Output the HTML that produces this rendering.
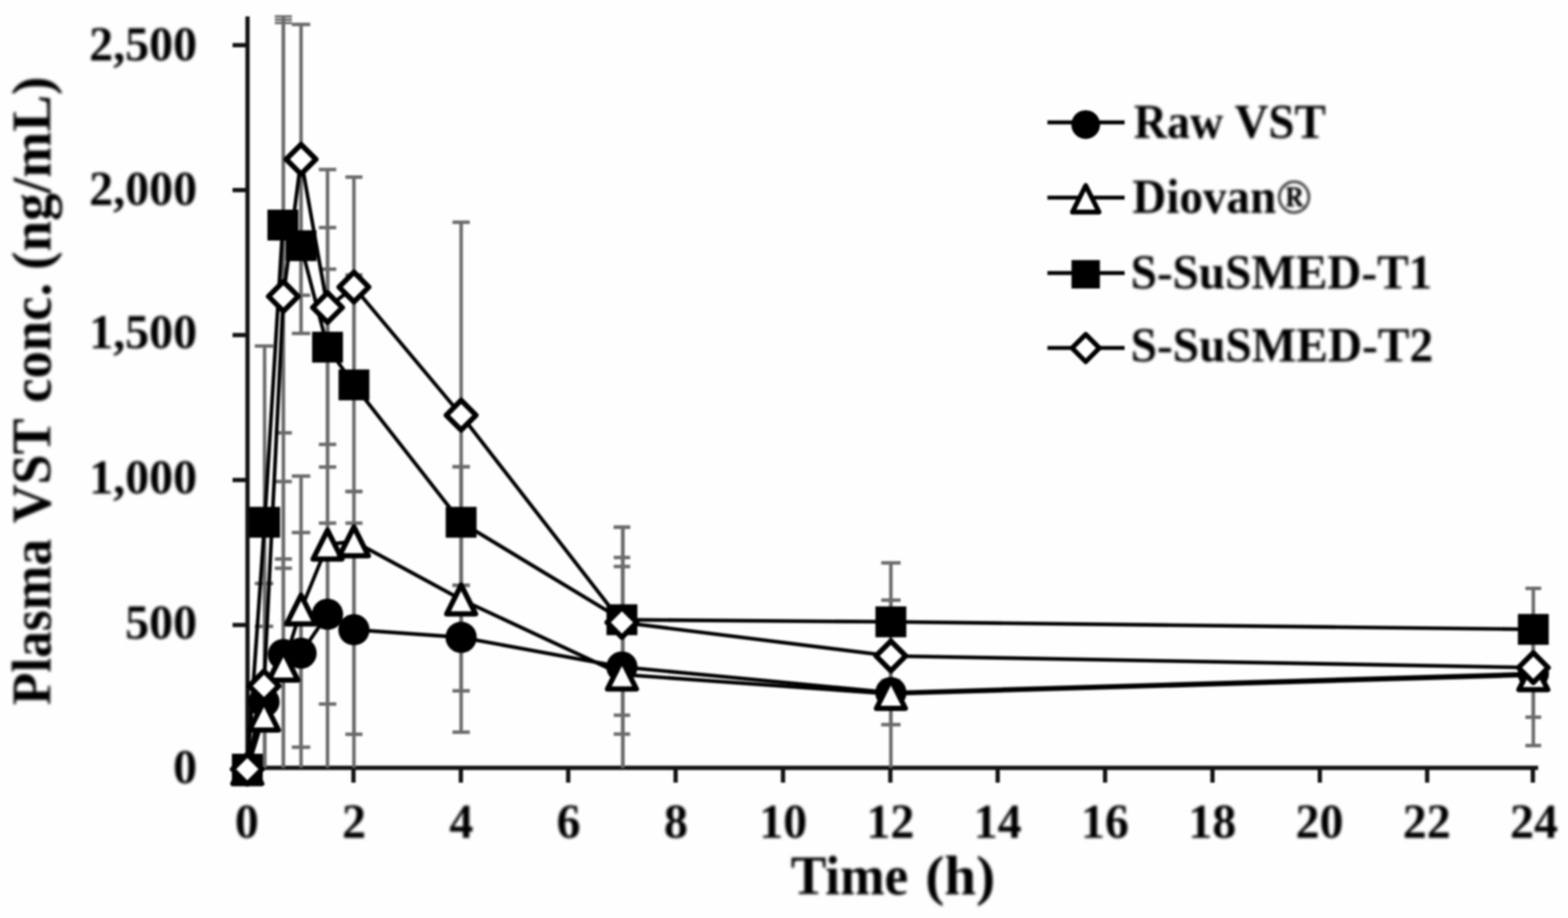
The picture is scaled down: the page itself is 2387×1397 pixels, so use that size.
<!DOCTYPE html>
<html lang="en">
<head>
<meta charset="utf-8">
<title>Plasma VST concentration vs. time</title>
<style>
html, body { margin: 0; padding: 0; background: #fefefe; }
body { width: 2387px; height: 1397px; overflow: hidden; }
svg { display: block; }
.shapes { filter: blur(1.4px); }
.labels { filter: blur(1.9px); }
text { font-kerning: normal; }
</style>
</head>
<body>
<svg width="2387" height="1397" viewBox="0 0 2387 1397" role="img" aria-label="Plasma VST concentration (ng/mL) versus time (h)">
<rect x="0" y="0" width="2387" height="1397" fill="#fefefe"/>
<g class="shapes">
<g id="axes">
<line x1="376.8" y1="25.0" x2="376.8" y2="1171.8" stroke="#111" stroke-width="6.5" stroke-linecap="butt"/>
<line x1="373.5" y1="1168.5" x2="2341.5" y2="1168.5" stroke="#111" stroke-width="6.5" stroke-linecap="butt"/>
<line x1="354.0" y1="68.7" x2="377.0" y2="68.7" stroke="#111" stroke-width="6.5" stroke-linecap="butt"/>
<line x1="354.0" y1="289.3" x2="377.0" y2="289.3" stroke="#111" stroke-width="6.5" stroke-linecap="butt"/>
<line x1="354.0" y1="509.9" x2="377.0" y2="509.9" stroke="#111" stroke-width="6.5" stroke-linecap="butt"/>
<line x1="354.0" y1="730.5" x2="377.0" y2="730.5" stroke="#111" stroke-width="6.5" stroke-linecap="butt"/>
<line x1="354.0" y1="951.1" x2="377.0" y2="951.1" stroke="#111" stroke-width="6.5" stroke-linecap="butt"/>
<line x1="538.1" y1="1168.5" x2="538.1" y2="1191.0" stroke="#111" stroke-width="6.5" stroke-linecap="butt"/>
<line x1="701.6" y1="1168.5" x2="701.6" y2="1191.0" stroke="#111" stroke-width="6.5" stroke-linecap="butt"/>
<line x1="865.0" y1="1168.5" x2="865.0" y2="1191.0" stroke="#111" stroke-width="6.5" stroke-linecap="butt"/>
<line x1="1028.5" y1="1168.5" x2="1028.5" y2="1191.0" stroke="#111" stroke-width="6.5" stroke-linecap="butt"/>
<line x1="1192.0" y1="1168.5" x2="1192.0" y2="1191.0" stroke="#111" stroke-width="6.5" stroke-linecap="butt"/>
<line x1="1355.4" y1="1168.5" x2="1355.4" y2="1191.0" stroke="#111" stroke-width="6.5" stroke-linecap="butt"/>
<line x1="1518.8" y1="1168.5" x2="1518.8" y2="1191.0" stroke="#111" stroke-width="6.5" stroke-linecap="butt"/>
<line x1="1682.3" y1="1168.5" x2="1682.3" y2="1191.0" stroke="#111" stroke-width="6.5" stroke-linecap="butt"/>
<line x1="1845.8" y1="1168.5" x2="1845.8" y2="1191.0" stroke="#111" stroke-width="6.5" stroke-linecap="butt"/>
<line x1="2009.2" y1="1168.5" x2="2009.2" y2="1191.0" stroke="#111" stroke-width="6.5" stroke-linecap="butt"/>
<line x1="2172.6" y1="1168.5" x2="2172.6" y2="1191.0" stroke="#111" stroke-width="6.5" stroke-linecap="butt"/>
<line x1="2333.5" y1="1168.5" x2="2333.5" y2="1191.0" stroke="#111" stroke-width="6.5" stroke-linecap="butt"/>
</g>
<g id="errorbars">
<line x1="402.8" y1="953.2" x2="402.8" y2="1168.5" stroke="#6a6a6a" stroke-width="5.3" stroke-linecap="butt"/>
<line x1="387.9" y1="953.2" x2="415.9" y2="953.2" stroke="#6a6a6a" stroke-width="5.3" stroke-linecap="butt"/>
<line x1="431.4" y1="732.8" x2="431.4" y2="1168.5" stroke="#6a6a6a" stroke-width="5.3" stroke-linecap="butt"/>
<line x1="418.4" y1="732.8" x2="444.4" y2="732.8" stroke="#6a6a6a" stroke-width="5.3" stroke-linecap="butt"/>
<line x1="458.3" y1="810.4" x2="458.3" y2="1168.5" stroke="#6a6a6a" stroke-width="5.3" stroke-linecap="butt"/>
<line x1="444.3" y1="810.4" x2="472.3" y2="810.4" stroke="#6a6a6a" stroke-width="5.3" stroke-linecap="butt"/>
<line x1="498.6" y1="796.1" x2="498.6" y2="1071.4" stroke="#6a6a6a" stroke-width="5.3" stroke-linecap="butt"/>
<line x1="485.4" y1="796.1" x2="511.9" y2="796.1" stroke="#6a6a6a" stroke-width="5.3" stroke-linecap="butt"/>
<line x1="485.4" y1="1071.4" x2="511.9" y2="1071.4" stroke="#6a6a6a" stroke-width="5.3" stroke-linecap="butt"/>
<line x1="538.8" y1="796.1" x2="538.8" y2="1117.4" stroke="#6a6a6a" stroke-width="5.3" stroke-linecap="butt"/>
<line x1="525.8" y1="796.1" x2="551.8" y2="796.1" stroke="#6a6a6a" stroke-width="5.3" stroke-linecap="butt"/>
<line x1="525.8" y1="1117.4" x2="551.8" y2="1117.4" stroke="#6a6a6a" stroke-width="5.3" stroke-linecap="butt"/>
<line x1="702.0" y1="890.6" x2="702.0" y2="1051.3" stroke="#6a6a6a" stroke-width="5.3" stroke-linecap="butt"/>
<line x1="688.8" y1="890.6" x2="715.2" y2="890.6" stroke="#6a6a6a" stroke-width="5.3" stroke-linecap="butt"/>
<line x1="688.8" y1="1051.3" x2="715.2" y2="1051.3" stroke="#6a6a6a" stroke-width="5.3" stroke-linecap="butt"/>
<line x1="948.2" y1="848.4" x2="948.2" y2="1168.5" stroke="#6a6a6a" stroke-width="5.3" stroke-linecap="butt"/>
<line x1="934.3" y1="848.4" x2="959.3" y2="848.4" stroke="#6a6a6a" stroke-width="5.3" stroke-linecap="butt"/>
<line x1="1356.2" y1="1005.0" x2="1356.2" y2="1102.8" stroke="#6a6a6a" stroke-width="5.3" stroke-linecap="butt"/>
<line x1="1341.5" y1="1005.0" x2="1371.0" y2="1005.0" stroke="#6a6a6a" stroke-width="5.3" stroke-linecap="butt"/>
<line x1="1341.5" y1="1102.8" x2="1371.0" y2="1102.8" stroke="#6a6a6a" stroke-width="5.3" stroke-linecap="butt"/>
<line x1="2334.2" y1="960.0" x2="2334.2" y2="1091.4" stroke="#6a6a6a" stroke-width="5.3" stroke-linecap="butt"/>
<line x1="2322.2" y1="960.0" x2="2346.2" y2="960.0" stroke="#6a6a6a" stroke-width="5.3" stroke-linecap="butt"/>
<line x1="2322.2" y1="1091.4" x2="2346.2" y2="1091.4" stroke="#6a6a6a" stroke-width="5.3" stroke-linecap="butt"/>
<line x1="402.8" y1="1050.0" x2="402.8" y2="1168.5" stroke="#6a6a6a" stroke-width="5.3" stroke-linecap="butt"/>
<line x1="387.9" y1="1050.0" x2="415.9" y2="1050.0" stroke="#6a6a6a" stroke-width="5.3" stroke-linecap="butt"/>
<line x1="431.4" y1="850.7" x2="431.4" y2="1168.5" stroke="#6a6a6a" stroke-width="5.3" stroke-linecap="butt"/>
<line x1="418.4" y1="850.7" x2="444.4" y2="850.7" stroke="#6a6a6a" stroke-width="5.3" stroke-linecap="butt"/>
<line x1="458.3" y1="724.5" x2="458.3" y2="1137.1" stroke="#6a6a6a" stroke-width="5.3" stroke-linecap="butt"/>
<line x1="444.3" y1="724.5" x2="472.3" y2="724.5" stroke="#6a6a6a" stroke-width="5.3" stroke-linecap="butt"/>
<line x1="444.3" y1="1137.1" x2="472.3" y2="1137.1" stroke="#6a6a6a" stroke-width="5.3" stroke-linecap="butt"/>
<line x1="498.6" y1="409.6" x2="498.6" y2="1168.5" stroke="#6a6a6a" stroke-width="5.3" stroke-linecap="butt"/>
<line x1="485.4" y1="409.6" x2="511.9" y2="409.6" stroke="#6a6a6a" stroke-width="5.3" stroke-linecap="butt"/>
<line x1="538.8" y1="747.9" x2="538.8" y2="1168.5" stroke="#6a6a6a" stroke-width="5.3" stroke-linecap="butt"/>
<line x1="525.8" y1="747.9" x2="551.8" y2="747.9" stroke="#6a6a6a" stroke-width="5.3" stroke-linecap="butt"/>
<line x1="702.0" y1="710.4" x2="702.0" y2="1114.2" stroke="#6a6a6a" stroke-width="5.3" stroke-linecap="butt"/>
<line x1="688.8" y1="710.4" x2="715.2" y2="710.4" stroke="#6a6a6a" stroke-width="5.3" stroke-linecap="butt"/>
<line x1="688.8" y1="1114.2" x2="715.2" y2="1114.2" stroke="#6a6a6a" stroke-width="5.3" stroke-linecap="butt"/>
<line x1="948.2" y1="862.1" x2="948.2" y2="1168.5" stroke="#6a6a6a" stroke-width="5.3" stroke-linecap="butt"/>
<line x1="934.3" y1="862.1" x2="959.3" y2="862.1" stroke="#6a6a6a" stroke-width="5.3" stroke-linecap="butt"/>
<line x1="1356.2" y1="960.0" x2="1356.2" y2="1168.5" stroke="#6a6a6a" stroke-width="5.3" stroke-linecap="butt"/>
<line x1="1341.5" y1="960.0" x2="1371.0" y2="960.0" stroke="#6a6a6a" stroke-width="5.3" stroke-linecap="butt"/>
<line x1="2334.2" y1="960.0" x2="2334.2" y2="1134.6" stroke="#6a6a6a" stroke-width="5.3" stroke-linecap="butt"/>
<line x1="2322.2" y1="960.0" x2="2346.2" y2="960.0" stroke="#6a6a6a" stroke-width="5.3" stroke-linecap="butt"/>
<line x1="2322.2" y1="1134.6" x2="2346.2" y2="1134.6" stroke="#6a6a6a" stroke-width="5.3" stroke-linecap="butt"/>
<line x1="402.8" y1="526.6" x2="402.8" y2="1063.0" stroke="#6a6a6a" stroke-width="5.3" stroke-linecap="butt"/>
<line x1="387.9" y1="526.6" x2="415.9" y2="526.6" stroke="#6a6a6a" stroke-width="5.3" stroke-linecap="butt"/>
<line x1="387.9" y1="1063.0" x2="415.9" y2="1063.0" stroke="#6a6a6a" stroke-width="5.3" stroke-linecap="butt"/>
<line x1="431.4" y1="25.0" x2="431.4" y2="658.7" stroke="#6a6a6a" stroke-width="5.3" stroke-linecap="butt"/>
<line x1="418.4" y1="25.0" x2="444.4" y2="25.0" stroke="#6a6a6a" stroke-width="3.6" stroke-linecap="butt"/>
<line x1="418.4" y1="658.7" x2="444.4" y2="658.7" stroke="#6a6a6a" stroke-width="5.3" stroke-linecap="butt"/>
<line x1="458.3" y1="240.4" x2="458.3" y2="507.4" stroke="#6a6a6a" stroke-width="5.3" stroke-linecap="butt"/>
<line x1="444.3" y1="240.4" x2="472.3" y2="240.4" stroke="#6a6a6a" stroke-width="5.3" stroke-linecap="butt"/>
<line x1="444.3" y1="507.4" x2="472.3" y2="507.4" stroke="#6a6a6a" stroke-width="5.3" stroke-linecap="butt"/>
<line x1="498.6" y1="346.3" x2="498.6" y2="710.7" stroke="#6a6a6a" stroke-width="5.3" stroke-linecap="butt"/>
<line x1="485.4" y1="346.3" x2="511.9" y2="346.3" stroke="#6a6a6a" stroke-width="5.3" stroke-linecap="butt"/>
<line x1="485.4" y1="710.7" x2="511.9" y2="710.7" stroke="#6a6a6a" stroke-width="5.3" stroke-linecap="butt"/>
<line x1="538.8" y1="418.5" x2="538.8" y2="747.9" stroke="#6a6a6a" stroke-width="5.3" stroke-linecap="butt"/>
<line x1="525.8" y1="418.5" x2="551.8" y2="418.5" stroke="#6a6a6a" stroke-width="5.3" stroke-linecap="butt"/>
<line x1="525.8" y1="747.9" x2="551.8" y2="747.9" stroke="#6a6a6a" stroke-width="5.3" stroke-linecap="butt"/>
<line x1="702.0" y1="710.4" x2="702.0" y2="890.6" stroke="#6a6a6a" stroke-width="5.3" stroke-linecap="butt"/>
<line x1="688.8" y1="710.4" x2="715.2" y2="710.4" stroke="#6a6a6a" stroke-width="5.3" stroke-linecap="butt"/>
<line x1="688.8" y1="890.6" x2="715.2" y2="890.6" stroke="#6a6a6a" stroke-width="5.3" stroke-linecap="butt"/>
<line x1="948.2" y1="802.3" x2="948.2" y2="1088.4" stroke="#6a6a6a" stroke-width="5.3" stroke-linecap="butt"/>
<line x1="934.3" y1="802.3" x2="959.3" y2="802.3" stroke="#6a6a6a" stroke-width="5.3" stroke-linecap="butt"/>
<line x1="934.3" y1="1088.4" x2="959.3" y2="1088.4" stroke="#6a6a6a" stroke-width="5.3" stroke-linecap="butt"/>
<line x1="1356.2" y1="856.6" x2="1356.2" y2="1036.0" stroke="#6a6a6a" stroke-width="5.3" stroke-linecap="butt"/>
<line x1="1341.5" y1="856.6" x2="1371.0" y2="856.6" stroke="#6a6a6a" stroke-width="5.3" stroke-linecap="butt"/>
<line x1="1341.5" y1="1036.0" x2="1371.0" y2="1036.0" stroke="#6a6a6a" stroke-width="5.3" stroke-linecap="butt"/>
<line x1="2334.2" y1="895.4" x2="2334.2" y2="1020.0" stroke="#6a6a6a" stroke-width="5.3" stroke-linecap="butt"/>
<line x1="2322.2" y1="895.4" x2="2346.2" y2="895.4" stroke="#6a6a6a" stroke-width="5.3" stroke-linecap="butt"/>
<line x1="2322.2" y1="1020.0" x2="2346.2" y2="1020.0" stroke="#6a6a6a" stroke-width="5.3" stroke-linecap="butt"/>
<line x1="402.8" y1="887.9" x2="402.8" y2="1168.5" stroke="#6a6a6a" stroke-width="5.3" stroke-linecap="butt"/>
<line x1="387.9" y1="887.9" x2="415.9" y2="887.9" stroke="#6a6a6a" stroke-width="5.3" stroke-linecap="butt"/>
<line x1="431.4" y1="35.0" x2="431.4" y2="864.8" stroke="#6a6a6a" stroke-width="5.3" stroke-linecap="butt"/>
<line x1="418.4" y1="35.0" x2="444.4" y2="35.0" stroke="#6a6a6a" stroke-width="3.6" stroke-linecap="butt"/>
<line x1="418.4" y1="864.8" x2="444.4" y2="864.8" stroke="#6a6a6a" stroke-width="5.3" stroke-linecap="butt"/>
<line x1="458.3" y1="37.2" x2="458.3" y2="449.3" stroke="#6a6a6a" stroke-width="5.3" stroke-linecap="butt"/>
<line x1="444.3" y1="37.2" x2="472.3" y2="37.2" stroke="#6a6a6a" stroke-width="5.3" stroke-linecap="butt"/>
<line x1="444.3" y1="449.3" x2="472.3" y2="449.3" stroke="#6a6a6a" stroke-width="5.3" stroke-linecap="butt"/>
<line x1="498.6" y1="258.0" x2="498.6" y2="676.3" stroke="#6a6a6a" stroke-width="5.3" stroke-linecap="butt"/>
<line x1="485.4" y1="258.0" x2="511.9" y2="258.0" stroke="#6a6a6a" stroke-width="5.3" stroke-linecap="butt"/>
<line x1="485.4" y1="676.3" x2="511.9" y2="676.3" stroke="#6a6a6a" stroke-width="5.3" stroke-linecap="butt"/>
<line x1="538.8" y1="269.5" x2="538.8" y2="604.0" stroke="#6a6a6a" stroke-width="5.3" stroke-linecap="butt"/>
<line x1="525.8" y1="269.5" x2="551.8" y2="269.5" stroke="#6a6a6a" stroke-width="5.3" stroke-linecap="butt"/>
<line x1="525.8" y1="604.0" x2="551.8" y2="604.0" stroke="#6a6a6a" stroke-width="5.3" stroke-linecap="butt"/>
<line x1="702.0" y1="338.2" x2="702.0" y2="925.4" stroke="#6a6a6a" stroke-width="5.3" stroke-linecap="butt"/>
<line x1="688.8" y1="338.2" x2="715.2" y2="338.2" stroke="#6a6a6a" stroke-width="5.3" stroke-linecap="butt"/>
<line x1="688.8" y1="925.4" x2="715.2" y2="925.4" stroke="#6a6a6a" stroke-width="5.3" stroke-linecap="butt"/>
<line x1="948.2" y1="802.3" x2="948.2" y2="1117.1" stroke="#6a6a6a" stroke-width="5.3" stroke-linecap="butt"/>
<line x1="934.3" y1="802.3" x2="959.3" y2="802.3" stroke="#6a6a6a" stroke-width="5.3" stroke-linecap="butt"/>
<line x1="934.3" y1="1117.1" x2="959.3" y2="1117.1" stroke="#6a6a6a" stroke-width="5.3" stroke-linecap="butt"/>
<line x1="1356.2" y1="913.3" x2="1356.2" y2="1070.0" stroke="#6a6a6a" stroke-width="5.3" stroke-linecap="butt"/>
<line x1="1341.5" y1="913.3" x2="1371.0" y2="913.3" stroke="#6a6a6a" stroke-width="5.3" stroke-linecap="butt"/>
<line x1="1341.5" y1="1070.0" x2="1371.0" y2="1070.0" stroke="#6a6a6a" stroke-width="5.3" stroke-linecap="butt"/>
<line x1="2334.2" y1="960.0" x2="2334.2" y2="1040.0" stroke="#6a6a6a" stroke-width="5.3" stroke-linecap="butt"/>
<line x1="2322.2" y1="960.0" x2="2346.2" y2="960.0" stroke="#6a6a6a" stroke-width="5.3" stroke-linecap="butt"/>
<line x1="2322.2" y1="1040.0" x2="2346.2" y2="1040.0" stroke="#6a6a6a" stroke-width="5.3" stroke-linecap="butt"/>
<line x1="418.4" y1="30.0" x2="444.4" y2="30.0" stroke="#6a6a6a" stroke-width="3.6" stroke-linecap="butt"/>
</g>
<g id="lines">
<polyline points="376.5,1170.5 401.9,1068.0 431.4,996.0 458.3,994.0 498.6,934.8 538.8,958.3 702.0,969.9 946.8,1015.0 1356.2,1054.0 2334.2,1025.0" fill="none" stroke="#000" stroke-width="5.6" stroke-linejoin="round"/>
<polyline points="376.5,1170.5 401.9,1089.0 431.4,1013.0 458.3,927.5 498.6,828.7 538.8,823.7 702.0,912.2 946.8,1026.5 1356.2,1056.0 2334.2,1027.5" fill="none" stroke="#000" stroke-width="5.6" stroke-linejoin="round"/>
<polyline points="376.5,1170.5 402.9,794.8 430.6,342.5 458.3,373.9 498.6,528.3 538.8,585.7 702.0,794.8 946.8,943.1 1356.2,946.3 2334.2,957.8" fill="none" stroke="#000" stroke-width="5.6" stroke-linejoin="round"/>
<polyline points="376.5,1170.5 401.9,1043.8 431.4,451.0 458.3,242.4 498.6,468.0 538.8,436.8 702.0,631.8 946.8,947.2 1356.2,998.2 2334.2,1016.0" fill="none" stroke="#000" stroke-width="5.6" stroke-linejoin="round"/>
</g>
<g id="m-raw">
<circle cx="376.5" cy="1170.5" r="23.8" fill="#000"/>
<circle cx="401.9" cy="1068.0" r="23.8" fill="#000"/>
<circle cx="431.4" cy="996.0" r="23.8" fill="#000"/>
<circle cx="458.3" cy="994.0" r="23.8" fill="#000"/>
<circle cx="498.6" cy="934.8" r="23.8" fill="#000"/>
<circle cx="538.8" cy="958.3" r="23.8" fill="#000"/>
<circle cx="702.0" cy="969.9" r="23.8" fill="#000"/>
<circle cx="946.8" cy="1015.0" r="23.8" fill="#000"/>
<circle cx="1356.2" cy="1054.0" r="23.8" fill="#000"/>
<circle cx="2334.2" cy="1025.0" r="23.8" fill="#000"/>
</g>
<g id="m-dio">
<polygon points="376.5,1148.7 398.5,1192.5 354.5,1192.5" fill="#fff" stroke="#000" stroke-width="8.0" stroke-linejoin="round"/>
<polygon points="401.9,1067.2 423.9,1111.0 379.9,1111.0" fill="#fff" stroke="#000" stroke-width="8.0" stroke-linejoin="round"/>
<polygon points="431.4,991.2 453.4,1035.0 409.4,1035.0" fill="#fff" stroke="#000" stroke-width="8.0" stroke-linejoin="round"/>
<polygon points="458.3,905.7 480.3,949.5 436.3,949.5" fill="#fff" stroke="#000" stroke-width="8.0" stroke-linejoin="round"/>
<polygon points="498.6,806.9 520.6,850.7 476.6,850.7" fill="#fff" stroke="#000" stroke-width="8.0" stroke-linejoin="round"/>
<polygon points="538.8,801.9 560.8,845.7 516.8,845.7" fill="#fff" stroke="#000" stroke-width="8.0" stroke-linejoin="round"/>
<polygon points="702.0,890.4 724.0,934.2 680.0,934.2" fill="#fff" stroke="#000" stroke-width="8.0" stroke-linejoin="round"/>
<polygon points="946.8,1004.7 968.8,1048.5 924.8,1048.5" fill="#fff" stroke="#000" stroke-width="8.0" stroke-linejoin="round"/>
<polygon points="1356.2,1034.2 1378.2,1078.0 1334.2,1078.0" fill="#fff" stroke="#000" stroke-width="8.0" stroke-linejoin="round"/>
<polygon points="2334.2,1005.7 2356.2,1049.5 2312.2,1049.5" fill="#fff" stroke="#000" stroke-width="8.0" stroke-linejoin="round"/>
</g>
<g id="m-t1">
<rect x="353.0" y="1147.0" width="47.0" height="47.0" fill="#000"/>
<rect x="379.4" y="771.3" width="47.0" height="47.0" fill="#000"/>
<rect x="407.1" y="319.0" width="47.0" height="47.0" fill="#000"/>
<rect x="434.8" y="350.4" width="47.0" height="47.0" fill="#000"/>
<rect x="475.1" y="504.8" width="47.0" height="47.0" fill="#000"/>
<rect x="515.3" y="562.2" width="47.0" height="47.0" fill="#000"/>
<rect x="678.5" y="771.3" width="47.0" height="47.0" fill="#000"/>
<rect x="923.3" y="919.6" width="47.0" height="47.0" fill="#000"/>
<rect x="1332.7" y="922.8" width="47.0" height="47.0" fill="#000"/>
<rect x="2310.7" y="934.3" width="47.0" height="47.0" fill="#000"/>
</g>
<g id="m-t2">
<polygon points="376.5,1147.9 399.1,1170.5 376.5,1193.1 353.9,1170.5" fill="#fff" stroke="#000" stroke-width="8.0" stroke-linejoin="round"/>
<polygon points="401.9,1021.2 424.5,1043.8 401.9,1066.4 379.3,1043.8" fill="#fff" stroke="#000" stroke-width="8.0" stroke-linejoin="round"/>
<polygon points="431.4,428.4 454.0,451.0 431.4,473.6 408.8,451.0" fill="#fff" stroke="#000" stroke-width="8.0" stroke-linejoin="round"/>
<polygon points="458.3,219.8 480.9,242.4 458.3,265.0 435.7,242.4" fill="#fff" stroke="#000" stroke-width="8.0" stroke-linejoin="round"/>
<polygon points="498.6,445.4 521.2,468.0 498.6,490.6 476.0,468.0" fill="#fff" stroke="#000" stroke-width="8.0" stroke-linejoin="round"/>
<polygon points="538.8,414.2 561.4,436.8 538.8,459.4 516.2,436.8" fill="#fff" stroke="#000" stroke-width="8.0" stroke-linejoin="round"/>
<polygon points="702.0,609.2 724.6,631.8 702.0,654.4 679.4,631.8" fill="#fff" stroke="#000" stroke-width="8.0" stroke-linejoin="round"/>
<polygon points="946.8,924.6 969.4,947.2 946.8,969.8 924.2,947.2" fill="#fff" stroke="#000" stroke-width="8.0" stroke-linejoin="round"/>
<polygon points="1356.2,975.6 1378.8,998.2 1356.2,1020.8 1333.6,998.2" fill="#fff" stroke="#000" stroke-width="8.0" stroke-linejoin="round"/>
<polygon points="2334.2,993.4 2356.8,1016.0 2334.2,1038.6 2311.6,1016.0" fill="#fff" stroke="#000" stroke-width="8.0" stroke-linejoin="round"/>
</g>
</g>
<g class="labels">
<g id="ticklabels" font-family='"Liberation Serif", "DejaVu Serif", serif' font-weight="bold" fill="#000">
<text x="300.0" y="92.1" font-size="73" text-anchor="end" >2,500</text>
<text x="300.0" y="312.0" font-size="73" text-anchor="end" >2,000</text>
<text x="300.0" y="530.3" font-size="73" text-anchor="end" >1,500</text>
<text x="300.0" y="750.6" font-size="73" text-anchor="end" >1,000</text>
<text x="300.0" y="971.6" font-size="73" text-anchor="end" >500</text>
<text x="300.0" y="1192.0" font-size="73" text-anchor="end" >0</text>
<text x="375.7" y="1274.5" font-size="73" text-anchor="middle" >0</text>
<text x="539.0" y="1274.5" font-size="73" text-anchor="middle" >2</text>
<text x="702.3" y="1274.5" font-size="73" text-anchor="middle" >4</text>
<text x="865.6" y="1274.5" font-size="73" text-anchor="middle" >6</text>
<text x="1028.9" y="1274.5" font-size="73" text-anchor="middle" >8</text>
<text x="1192.2" y="1274.5" font-size="73" text-anchor="middle" >10</text>
<text x="1355.5" y="1274.5" font-size="73" text-anchor="middle" >12</text>
<text x="1518.8" y="1274.5" font-size="73" text-anchor="middle" >14</text>
<text x="1682.1" y="1274.5" font-size="73" text-anchor="middle" >16</text>
<text x="1845.4" y="1274.5" font-size="73" text-anchor="middle" >18</text>
<text x="2008.7" y="1274.5" font-size="73" text-anchor="middle" >20</text>
<text x="2172.0" y="1274.5" font-size="73" text-anchor="middle" >22</text>
<text x="2335.3" y="1274.5" font-size="73" text-anchor="middle" >24</text>
</g>
<g id="titles" font-family='"Liberation Serif", "DejaVu Serif", serif' font-weight="bold" fill="#000">
<text y="1361.20" font-size="85" ><tspan x="1203.63" textLength="179.07" lengthAdjust="spacingAndGlyphs">Time</tspan> <tspan x="1408.47" textLength="106.46" lengthAdjust="spacingAndGlyphs">(h)</tspan></text>
<text transform="translate(76.80,0) rotate(-90)" y="0" font-size="85"><tspan x="-1073.19" textLength="253.02" lengthAdjust="spacingAndGlyphs">Plasma</tspan> <tspan x="-796.31" textLength="157.84" lengthAdjust="spacingAndGlyphs">VST</tspan> <tspan x="-613.04" textLength="182.50" lengthAdjust="spacingAndGlyphs">conc.</tspan> <tspan x="-410.80" textLength="294.39" lengthAdjust="spacingAndGlyphs">(ng/mL)</tspan></text>
</g>
</g>
<g id="legend-keys" class="shapes">
<line x1="1594.5" y1="186.3" x2="1712.0" y2="186.3" stroke="#000" stroke-width="6.0" stroke-linecap="butt"/>
<circle cx="1652.8" cy="189.6" r="21.9" fill="#000"/>
<line x1="1594.5" y1="300.8" x2="1712.0" y2="300.8" stroke="#000" stroke-width="6.0" stroke-linecap="butt"/>
<polygon points="1652.8,282.4 1673.0,322.7 1632.6,322.7" fill="#fff" stroke="#000" stroke-width="7.4" stroke-linejoin="round"/>
<line x1="1594.5" y1="415.5" x2="1712.0" y2="415.5" stroke="#000" stroke-width="6.0" stroke-linecap="butt"/>
<rect x="1631.2" y="395.8" width="43.2" height="43.2" fill="#000"/>
<line x1="1594.5" y1="529.5" x2="1712.0" y2="529.5" stroke="#000" stroke-width="6.0" stroke-linecap="butt"/>
<polygon points="1652.8,508.9 1673.6,529.7 1652.8,550.5 1632.0,529.7" fill="#fff" stroke="#000" stroke-width="7.4" stroke-linejoin="round"/>
</g>
<g id="legend" class="labels" font-family='"Liberation Serif", "DejaVu Serif", serif' font-weight="bold" fill="#000">
<text y="210.10" font-size="75" ><tspan x="1726.00" textLength="136.17" lengthAdjust="spacingAndGlyphs">Raw</tspan> <tspan x="1879.60" textLength="138.58" lengthAdjust="spacingAndGlyphs">VST</tspan></text>
<text y="324.00" font-size="75" ><tspan x="1723.74" textLength="272.56" lengthAdjust="spacingAndGlyphs">Diovan®</tspan></text>
<text y="438.70" font-size="75" ><tspan x="1721.28" textLength="458.94" lengthAdjust="spacingAndGlyphs">S-SuSMED-T1</tspan></text>
<text y="550.10" font-size="75" ><tspan x="1721.27" textLength="460.43" lengthAdjust="spacingAndGlyphs">S-SuSMED-T2</tspan></text>
</g>
</svg>
</body>
</html>
